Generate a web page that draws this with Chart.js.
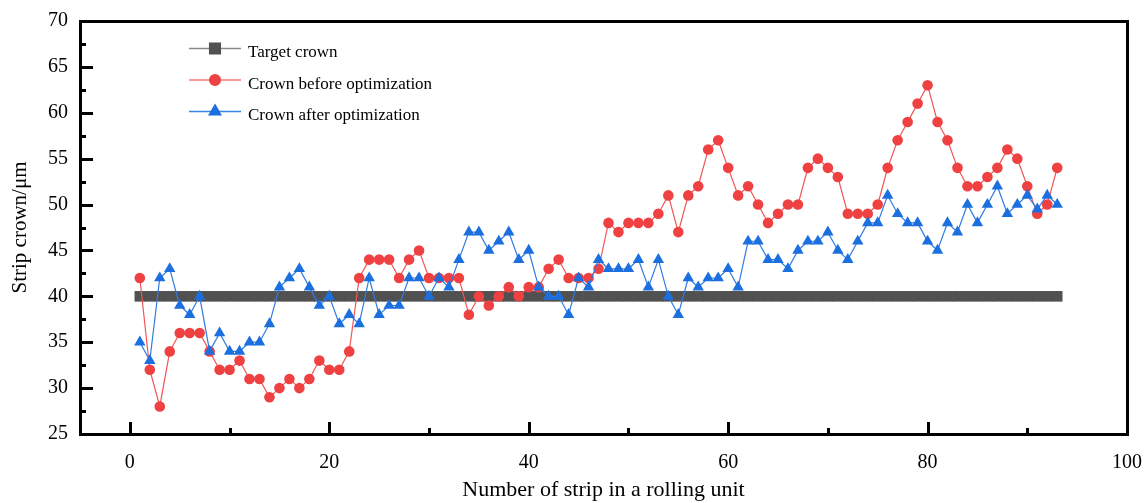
<!DOCTYPE html>
<html>
<head>
<meta charset="utf-8">
<script src="https://cdn.jsdelivr.net/npm/chart.js@4.4.1/dist/chart.umd.min.js"></script>
<style>
  html, body { margin: 0; padding: 0; background: #ffffff; }
  #wrap { width: 1146px; height: 503px; }
</style>
</head>
<body>
<div id="wrap"><canvas id="chart" width="1146" height="503"></canvas></div>
<script>
// Strip number within the rolling unit
const stripNo = [
  1, 2, 3, 4, 5, 6, 7, 8, 9, 10,
  11, 12, 13, 14, 15, 16, 17, 18, 19, 20,
  21, 22, 23, 24, 25, 26, 27, 28, 29, 30,
  31, 32, 33, 34, 35, 36, 37, 38, 39, 40,
  41, 42, 43, 44, 45, 46, 47, 48, 49, 50,
  51, 52, 53, 54, 55, 56, 57, 58, 59, 60,
  61, 62, 63, 64, 65, 66, 67, 68, 69, 70,
  71, 72, 73, 74, 75, 76, 77, 78, 79, 80,
  81, 82, 83, 84, 85, 86, 87, 88, 89, 90,
  91, 92, 93
];

// Target crown (µm)
const targetCrown = [
  40, 40, 40, 40, 40, 40, 40, 40, 40, 40,
  40, 40, 40, 40, 40, 40, 40, 40, 40, 40,
  40, 40, 40, 40, 40, 40, 40, 40, 40, 40,
  40, 40, 40, 40, 40, 40, 40, 40, 40, 40,
  40, 40, 40, 40, 40, 40, 40, 40, 40, 40,
  40, 40, 40, 40, 40, 40, 40, 40, 40, 40,
  40, 40, 40, 40, 40, 40, 40, 40, 40, 40,
  40, 40, 40, 40, 40, 40, 40, 40, 40, 40,
  40, 40, 40, 40, 40, 40, 40, 40, 40, 40,
  40, 40, 40
];

// Crown before optimization (µm)
const crownBefore = [
  42, 32, 28, 34, 36, 36, 36, 34, 32, 32,
  33, 31, 31, 29, 30, 31, 30, 31, 33, 32,
  32, 34, 42, 44, 44, 44, 42, 44, 45, 42,
  42, 42, 42, 38, 40, 39, 40, 41, 40, 41,
  41, 43, 44, 42, 42, 42, 43, 48, 47, 48,
  48, 48, 49, 51, 47, 51, 52, 56, 57, 54,
  51, 52, 50, 48, 49, 50, 50, 54, 55, 54,
  53, 49, 49, 49, 50, 54, 57, 59, 61, 63,
  59, 57, 54, 52, 52, 53, 54, 56, 55, 52,
  49, 50, 54
];

// Crown after optimization (µm)
const crownAfter = [
  35, 33, 42, 43, 39, 38, 40, 34, 36, 34,
  34, 35, 35, 37, 41, 42, 43, 41, 39, 40,
  37, 38, 37, 42, 38, 39, 39, 42, 42, 40,
  42, 41, 44, 47, 47, 45, 46, 47, 44, 45,
  41, 40, 40, 38, 42, 41, 44, 43, 43, 43,
  44, 41, 44, 40, 38, 42, 41, 42, 42, 43,
  41, 46, 46, 44, 44, 43, 45, 46, 46, 47,
  45, 44, 46, 48, 48, 51, 49, 48, 48, 46,
  45, 48, 47, 50, 48, 50, 52, 49, 50, 51,
  49.5, 51, 50
];

// Axis tick values
const xMajorTicks = [0, 20, 40, 60, 80, 100];
const xMinorTicks = [10, 30, 50, 70, 90];
const yMajorTicks = [25, 30, 35, 40, 45, 50, 55, 60, 65, 70];
const yMinorTicks = [27.5, 32.5, 37.5, 42.5, 47.5, 52.5, 57.5, 62.5, 67.5];

const seriesNames = ['Target crown', 'Crown before optimization', 'Crown after optimization'];

const SERIF = '"Liberation Serif", "Times New Roman", serif';

function toPoints(ys) {
  return stripNo.map((x, i) => ({ x: x, y: ys[i] }));
}

// Box frame, inward ticks and the in-plot legend
const framePlugin = {
  id: 'framePlugin',
  afterDraw(chart) {
    const ctx = chart.ctx;
    const a = chart.chartArea;
    const xs = chart.scales.x;
    const ys = chart.scales.y;
    ctx.save();
    ctx.strokeStyle = '#000000';
    ctx.lineCap = 'butt';

    // inward ticks on the bottom axis
    ctx.lineWidth = 3;
    ctx.beginPath();
    xMajorTicks.forEach(v => {
      const px = Math.round(xs.getPixelForValue(v)) + 0.5;
      ctx.moveTo(px, a.bottom); ctx.lineTo(px, a.bottom - 12);
    });
    xMinorTicks.forEach(v => {
      const px = Math.round(xs.getPixelForValue(v)) + 0.5;
      ctx.moveTo(px, a.bottom); ctx.lineTo(px, a.bottom - 6);
    });
    // inward ticks on the left axis
    yMajorTicks.forEach(v => {
      const py = Math.round(ys.getPixelForValue(v)) + 0.5;
      ctx.moveTo(a.left, py); ctx.lineTo(a.left + 13, py);
    });
    yMinorTicks.forEach(v => {
      const py = Math.round(ys.getPixelForValue(v)) + 0.5;
      ctx.moveTo(a.left, py); ctx.lineTo(a.left + 6, py);
    });
    ctx.stroke();

    // frame
    ctx.lineWidth = 3;
    ctx.strokeRect(a.left + 0.5, a.top + 0.5, a.right - a.left, a.bottom - a.top);

    // legend
    const rows = [48.5, 80, 111.5];
    const lineX0 = 189, lineX1 = 241, markX = 215, textX = 248;
    chart.data.datasets.forEach((ds, i) => {
      const y = rows[i];
      ctx.strokeStyle = ds.legendLineColor;
      ctx.lineWidth = 1.5;
      ctx.beginPath();
      ctx.moveTo(lineX0, y); ctx.lineTo(lineX1, y);
      ctx.stroke();
      ctx.fillStyle = ds.pointBackgroundColor;
      ctx.strokeStyle = ds.pointBorderColor;
      Chart.helpers.drawPoint(ctx, {
        pointStyle: ds.pointStyle,
        radius: ds.pointRadius,
        rotation: 0,
        borderWidth: 1
      }, markX, y);
      ctx.fillStyle = '#000000';
      ctx.font = '17px ' + SERIF;
      ctx.textAlign = 'left';
      ctx.textBaseline = 'middle';
      ctx.fillText(seriesNames[i], textX, y + 4.5);
    });
    ctx.restore();
  }
};

const axisFont = { family: SERIF, size: 20 };

new Chart(document.getElementById('chart'), {
  type: 'line',
  data: {
    datasets: [
      {
        label: seriesNames[0],
        data: toPoints(targetCrown),
        order: 3,
        borderColor: '#8a8a8a',
        borderWidth: 1,
        legendLineColor: '#8a8a8a',
        pointStyle: 'rect',
        pointRadius: 7.5,
        pointBackgroundColor: '#515151',
        pointBorderColor: '#515151',
        pointBorderWidth: 0,
        tension: 0
      },
      {
        label: seriesNames[1],
        data: toPoints(crownBefore),
        order: 2,
        borderColor: '#f05555',
        borderWidth: 1.2,
        legendLineColor: '#f07a7a',
        pointStyle: 'circle',
        pointRadius: 5.3,
        pointBackgroundColor: '#ef4141',
        pointBorderColor: '#ef4141',
        pointBorderWidth: 0,
        tension: 0
      },
      {
        label: seriesNames[2],
        data: toPoints(crownAfter),
        order: 1,
        borderColor: '#2f7be3',
        borderWidth: 1.2,
        legendLineColor: '#3a84e6',
        pointStyle: 'triangle',
        pointRadius: 6.6,
        pointBackgroundColor: '#1b6fdf',
        pointBorderColor: '#1b6fdf',
        pointBorderWidth: 0,
        tension: 0
      }
    ]
  },
  options: {
    responsive: false,
    animation: false,
    devicePixelRatio: 1,
    clip: false,
    layout: { padding: { left: 0, right: 19, top: 21, bottom: 0 } },
    plugins: {
      legend: { display: false },
      tooltip: { enabled: false }
    },
    scales: {
      x: {
        type: 'linear',
        min: -5,
        max: 100,
        grid: { display: false, drawTicks: false },
        border: { display: false },
        afterBuildTicks: s => { s.ticks = xMajorTicks.map(v => ({ value: v })); },
        afterFit: s => {
          s.height = 69;
          s.paddingLeft = 0;
          s.paddingRight = 0;
        },
        ticks: {
          padding: 17,
          color: '#000000',
          font: axisFont,
          maxRotation: 0,
          autoSkip: false
        },
        title: {
          display: true,
          text: 'Number of strip in a rolling unit',
          color: '#000000',
          font: { family: SERIF, size: 22 },
          padding: { top: 0, bottom: 0 }
        }
      },
      y: {
        type: 'linear',
        min: 25,
        max: 70,
        grid: { display: false, drawTicks: false },
        border: { display: false },
        afterBuildTicks: s => { s.ticks = yMajorTicks.map(v => ({ value: v })); },
        afterFit: s => {
          s.width = 80;
          s.paddingTop = 0;
          s.paddingBottom = 0;
        },
        ticks: {
          padding: 12,
          color: '#000000',
          font: axisFont,
          autoSkip: false
        },
        title: {
          display: true,
          text: 'Strip crown/μm',
          color: '#000000',
          font: { family: SERIF, size: 21 },
          padding: { top: 8, bottom: 0 }
        }
      }
    }
  },
  plugins: [framePlugin]
});
</script>
</body>
</html>
